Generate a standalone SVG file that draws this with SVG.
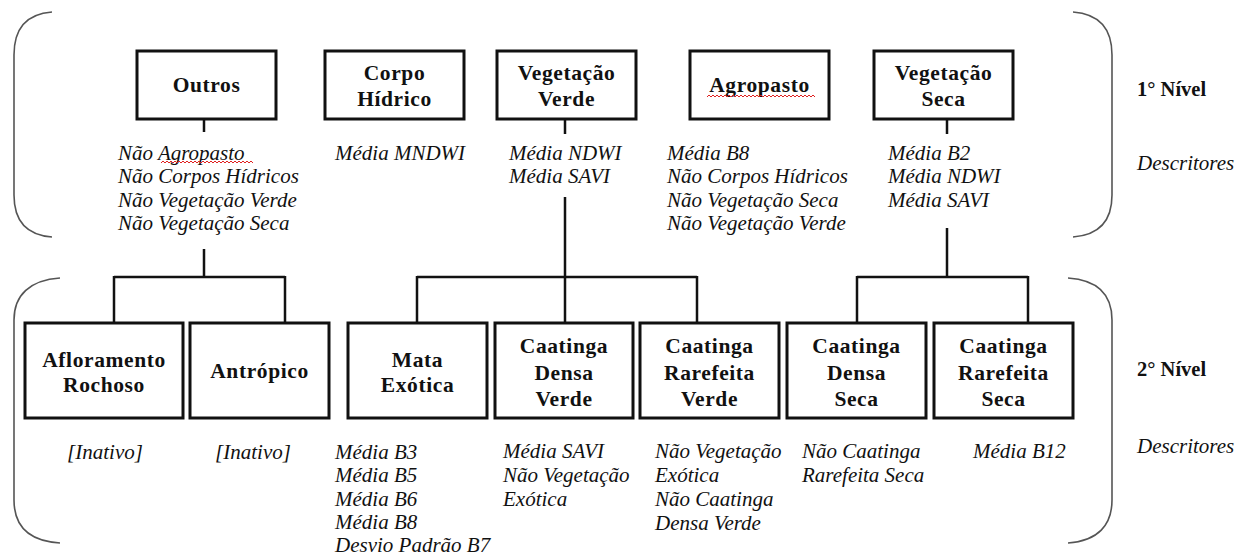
<svg xmlns="http://www.w3.org/2000/svg" width="1250" height="555" viewBox="0 0 1250 555">
<defs>
<style>
.box{fill:#fff;stroke:#111;stroke-width:3}
.t{font-family:"Liberation Serif","Times New Roman",serif;font-weight:bold;font-size:21.5px;fill:#111;text-anchor:middle;letter-spacing:0.6px}
.d{font-family:"Liberation Serif","Times New Roman",serif;font-style:italic;font-size:21px;fill:#111}
.c{stroke:#111;stroke-width:2.5;fill:none}
.br{stroke:#555;stroke-width:1.6;fill:none}
.lv{font-family:"Liberation Serif","Times New Roman",serif;font-weight:bold;font-size:20.5px;fill:#111}
.sq{stroke:#e02020;stroke-width:1;fill:none}
</style>
</defs>
<rect width="1250" height="555" fill="#fff"/>
<g id="brackets">
<path class="br" d="M52 12 C25 14 14 30 14 55 V195 C14 220 25 235 52 237"/>
<path class="br" d="M1073 12 C1100 14 1112 30 1112 55 V195 C1112 220 1100 235 1073 237"/>
<path class="br" d="M60 278 C30 280 14 295 14 320 V500 C14 525 28 541 60 543"/>
<path class="br" d="M1068 278 C1098 280 1112 295 1112 320 V500 C1112 525 1098 541 1068 543"/>
</g>
<g id="connectors">
<path class="c" d="M204 119 V132 M204 249 V277 M114 277 H285 M114 276 V323 M285 276 V323"/>
<path class="c" d="M565 119 V134 M565 197 V323 M417 277 H697 M417 276 V323 M697 276 V323"/>
<path class="c" d="M947 119 V134 M947 228 V277 M857 277 H1028 M857 276 V323 M1028 276 V323"/>
</g>
<g id="n-outros">
<rect class="box" x="137" y="51" width="139" height="68"/>
<text class="t" x="206.5" y="92">Outros</text>
<text class="d" x="118" y="160">Não Agropasto</text>
<text class="d" x="118" y="183">Não Corpos Hídricos</text>
<text class="d" x="118" y="207">Não Vegetação Verde</text>
<text class="d" x="118" y="230">Não Vegetação Seca</text>
<path class="sq" d="M161 163 l2 -2 l2 2 l2 -2 l2 2 l2 -2 l2 2 l2 -2 l2 2 l2 -2 l2 2 l2 -2 l2 2 l2 -2 l2 2 l2 -2 l2 2 l2 -2 l2 2 l2 -2 l2 2 l2 -2 l2 2 l2 -2 l2 2 l2 -2 l2 2 l2 -2 l2 2 l2 -2 l2 2 l2 -2 l2 2 l2 -2 l2 2 l2 -2 l2 2 l2 -2 l2 2 l2 -2 l2 2 l2 -2 l2 2 l2 -2 l2 2 l2 -2 l2 2"/>
</g>
<g id="n-corpo-hidrico">
<rect class="box" x="325" y="51" width="139" height="68"/>
<text class="t" x="394.5" y="80">Corpo</text>
<text class="t" x="394.5" y="106">Hídrico</text>
<text class="d" x="335" y="160">Média MNDWI</text>
</g>
<g id="n-vegetacao-verde">
<rect class="box" x="497" y="51" width="139" height="68"/>
<text class="t" x="566.5" y="80">Vegetação</text>
<text class="t" x="566.5" y="106">Verde</text>
<text class="d" x="509" y="160">Média NDWI</text>
<text class="d" x="509" y="183">Média SAVI</text>
</g>
<g id="n-agropasto">
<rect class="box" x="690" y="51" width="139" height="68"/>
<text class="t" x="759.5" y="92">Agropasto</text>
<path class="sq" d="M707 97 l2 -2 l2 2 l2 -2 l2 2 l2 -2 l2 2 l2 -2 l2 2 l2 -2 l2 2 l2 -2 l2 2 l2 -2 l2 2 l2 -2 l2 2 l2 -2 l2 2 l2 -2 l2 2 l2 -2 l2 2 l2 -2 l2 2 l2 -2 l2 2 l2 -2 l2 2 l2 -2 l2 2 l2 -2 l2 2 l2 -2 l2 2 l2 -2 l2 2 l2 -2 l2 2 l2 -2 l2 2 l2 -2 l2 2 l2 -2 l2 2 l2 -2 l2 2 l2 -2 l2 2 l2 -2 l2 2 l2 -2 l2 2 l2 -2 l2 2"/>
<text class="d" x="667" y="160">Média B8</text>
<text class="d" x="667" y="183">Não Corpos Hídricos</text>
<text class="d" x="667" y="207">Não Vegetação Seca</text>
<text class="d" x="667" y="230">Não Vegetação Verde</text>
</g>
<g id="n-vegetacao-seca">
<rect class="box" x="874" y="51" width="139" height="68"/>
<text class="t" x="943.5" y="80">Vegetação</text>
<text class="t" x="943.5" y="106">Seca</text>
<text class="d" x="888" y="160">Média B2</text>
<text class="d" x="888" y="183">Média NDWI</text>
<text class="d" x="888" y="207">Média SAVI</text>
</g>
<g id="n-afloramento">
<rect class="box" x="25" y="323" width="158" height="95"/>
<text class="t" x="104" y="367">Afloramento</text>
<text class="t" x="104" y="392">Rochoso</text>
<text class="d" x="105" y="459" text-anchor="middle">[Inativo]</text>
</g>
<g id="n-antropico">
<rect class="box" x="190" y="323" width="139" height="95"/>
<text class="t" x="259.5" y="378">Antrópico</text>
<text class="d" x="253" y="459" text-anchor="middle">[Inativo]</text>
</g>
<g id="n-mata-exotica">
<rect class="box" x="348" y="323" width="139" height="95"/>
<text class="t" x="417.5" y="367">Mata</text>
<text class="t" x="417.5" y="392">Exótica</text>
<text class="d" x="335" y="459">Média B3</text>
<text class="d" x="335" y="482">Média B5</text>
<text class="d" x="335" y="506">Média B6</text>
<text class="d" x="335" y="529">Média B8</text>
<text class="d" x="335" y="552">Desvio Padrão B7</text>
</g>
<g id="n-caatinga-densa-verde">
<rect class="box" x="495" y="323" width="138" height="95"/>
<text class="t" x="564" y="353">Caatinga</text>
<text class="t" x="564" y="380">Densa</text>
<text class="t" x="564" y="406">Verde</text>
<text class="d" x="503" y="458">Média SAVI</text>
<text class="d" x="503" y="482">Não Vegetação</text>
<text class="d" x="503" y="506">Exótica</text>
</g>
<g id="n-caatinga-rarefeita-verde">
<rect class="box" x="640" y="323" width="139" height="95"/>
<text class="t" x="709.5" y="353">Caatinga</text>
<text class="t" x="709.5" y="380">Rarefeita</text>
<text class="t" x="709.5" y="406">Verde</text>
<text class="d" x="655" y="458">Não Vegetação</text>
<text class="d" x="655" y="482">Exótica</text>
<text class="d" x="655" y="506">Não Caatinga</text>
<text class="d" x="655" y="530">Densa Verde</text>
</g>
<g id="n-caatinga-densa-seca">
<rect class="box" x="787" y="323" width="139" height="95"/>
<text class="t" x="856.5" y="353">Caatinga</text>
<text class="t" x="856.5" y="380">Densa</text>
<text class="t" x="856.5" y="406">Seca</text>
<text class="d" x="802" y="458">Não Caatinga</text>
<text class="d" x="802" y="482">Rarefeita Seca</text>
</g>
<g id="n-caatinga-rarefeita-seca">
<rect class="box" x="934" y="323" width="139" height="95"/>
<text class="t" x="1003.5" y="353">Caatinga</text>
<text class="t" x="1003.5" y="380">Rarefeita</text>
<text class="t" x="1003.5" y="406">Seca</text>
<text class="d" x="973" y="458">Média B12</text>
</g>
<g id="levels">
<text class="lv" x="1137" y="96">1° Nível</text>
<text class="d" x="1137" y="170">Descritores</text>
<text class="lv" x="1137" y="376">2° Nível</text>
<text class="d" x="1137" y="453">Descritores</text>
</g>
</svg>
